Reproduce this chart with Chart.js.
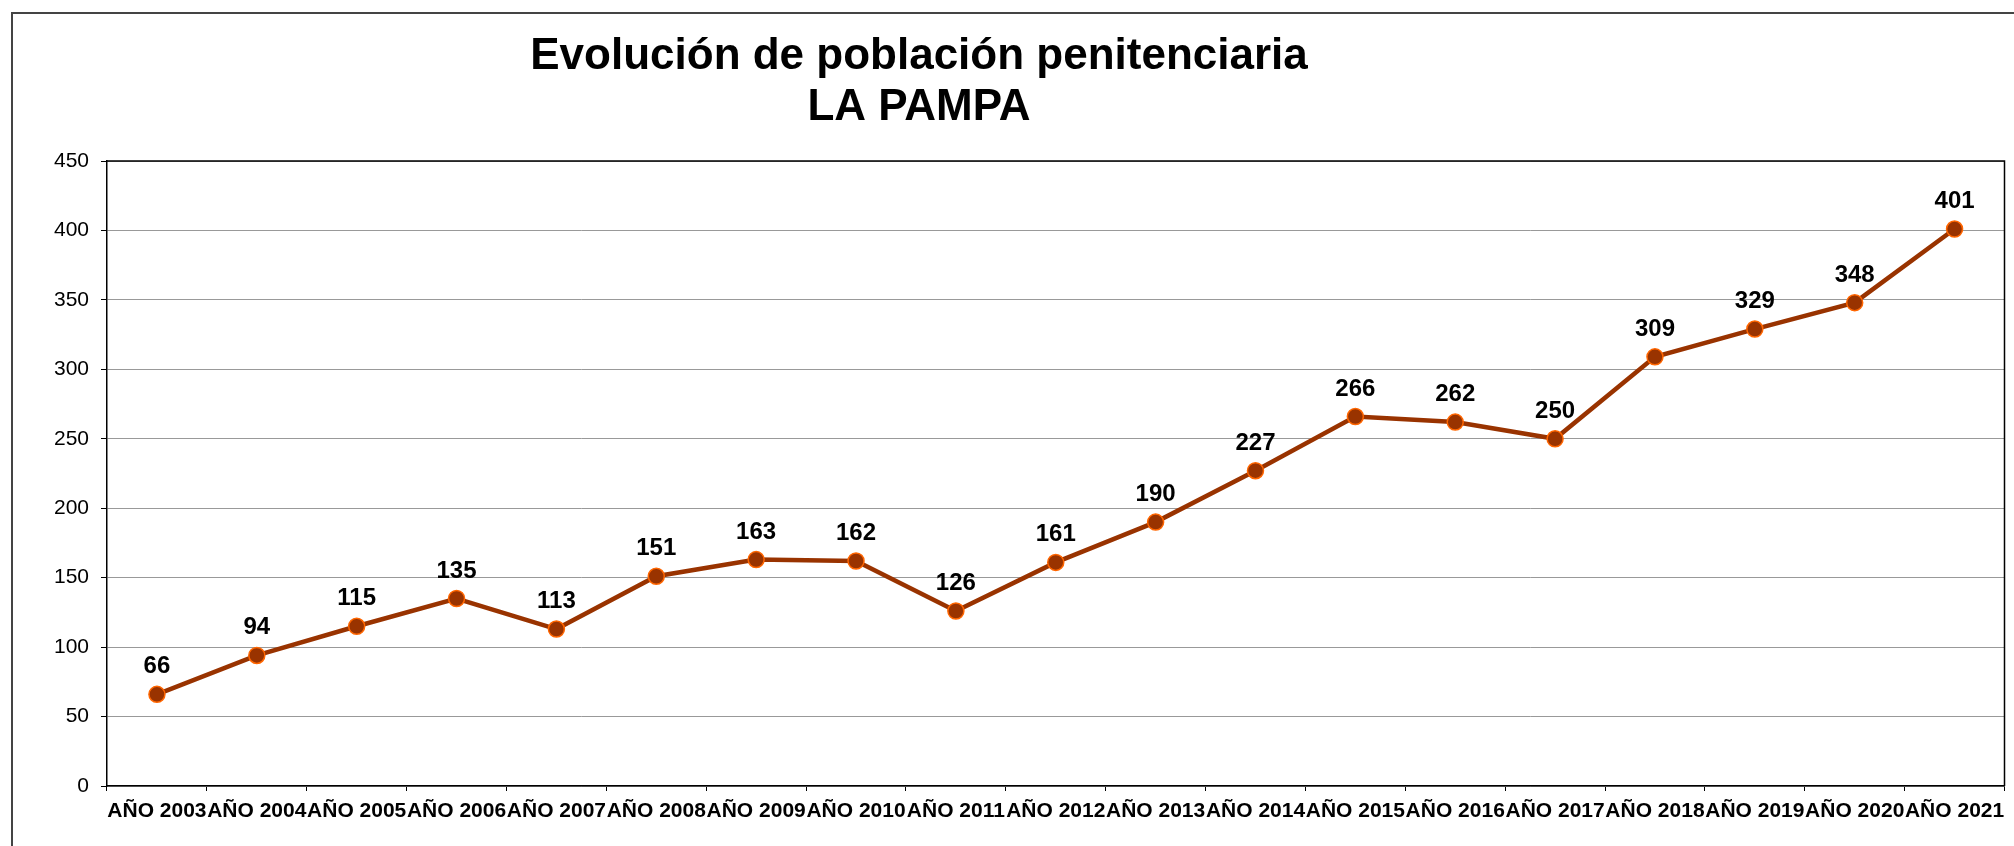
<!DOCTYPE html>
<html>
<head>
<meta charset="utf-8">
<title>Evolución de población penitenciaria - LA PAMPA</title>
<script src="https://cdn.jsdelivr.net/npm/chart.js@4.4.1/dist/chart.umd.min.js"></script>
<style>
  html, body { margin: 0; padding: 0; background: #FFFFFF; overflow: hidden; }
  #chart { display: block; }
</style>
</head>
<body>
<canvas id="chart" width="2014" height="846"></canvas>
<script>
  const years = ['AÑO 2003', 'AÑO 2004', 'AÑO 2005', 'AÑO 2006', 'AÑO 2007', 'AÑO 2008', 'AÑO 2009',
    'AÑO 2010', 'AÑO 2011', 'AÑO 2012', 'AÑO 2013', 'AÑO 2014', 'AÑO 2015', 'AÑO 2016', 'AÑO 2017',
    'AÑO 2018', 'AÑO 2019', 'AÑO 2020', 'AÑO 2021'];
  const population = [66, 94, 115, 135, 113, 151, 163, 162, 126, 161, 190, 227, 266, 262, 250, 309, 329, 348, 401];
  const titleLines = ['Evolución de población penitenciaria', 'LA PAMPA'];
  const yMin = 0;
  const yMax = 450;
  const yStep = 50;

  const FONT = "'Liberation Sans', Arial, sans-serif";

  // outer frame + plot border
  const framePlugin = {
    id: 'frame',
    beforeDraw(chart) {
      const c = chart.ctx;
      c.save();
      c.strokeStyle = '#444444';
      c.lineWidth = 2;
      c.beginPath();
      c.moveTo(12, chart.height);
      c.lineTo(12, 13);
      c.lineTo(chart.width, 13);
      c.stroke();
      c.restore();
    },
    afterDraw(chart) {
      const a = chart.chartArea;
      const c = chart.ctx;
      c.save();
      c.strokeStyle = '#000000';
      c.lineWidth = 1.5;
      c.beginPath();
      c.moveTo(a.left, a.top);
      c.lineTo(a.right, a.top);
      c.lineTo(a.right, a.bottom);
      c.stroke();
      c.restore();
    }
  };

  const titlePlugin = {
    id: 'bigTitle',
    afterDraw(chart) {
      const c = chart.ctx;
      c.save();
      c.fillStyle = '#000000';
      c.font = 'bold 44px ' + FONT;
      c.textAlign = 'center';
      c.textBaseline = 'alphabetic';
      c.fillText(titleLines[0], 919, 69);
      c.fillText(titleLines[1], 919, 120);
      c.restore();
    }
  };

  const valueLabels = {
    id: 'valueLabels',
    afterDatasetsDraw(chart) {
      const c = chart.ctx;
      const meta = chart.getDatasetMeta(0);
      c.save();
      c.fillStyle = '#000000';
      c.font = 'bold 24px ' + FONT;
      c.textAlign = 'center';
      c.textBaseline = 'alphabetic';
      meta.data.forEach(function (pt, i) {
        c.fillText(String(population[i]), pt.x, pt.y - 21);
      });
      c.restore();
    }
  };

  const ctx = document.getElementById('chart').getContext('2d');

  new Chart(ctx, {
    type: 'line',
    data: {
      labels: years,
      datasets: [{
        label: 'Población',
        data: population,
        borderColor: '#993300',
        borderWidth: 4.5,
        pointBackgroundColor: '#993300',
        pointBorderColor: '#FF6600',
        pointBorderWidth: 1.5,
        pointRadius: 8,
        fill: false,
        tension: 0
      }]
    },
    options: {
      responsive: false,
      animation: false,
      layout: { padding: { top: 161, right: 4, bottom: 0, left: 0 } },
      plugins: {
        legend: { display: false },
        title: { display: false },
        tooltip: { enabled: false }
      },
      scales: {
        x: {
          offset: true,
          border: { display: true, color: '#000000', width: 1.5 },
          grid: {
            offset: true,
            drawOnChartArea: false,
            drawTicks: true,
            tickLength: 5,
            tickColor: '#000000',
            tickWidth: 1
          },
          ticks: {
            autoSkip: false,
            maxRotation: 0,
            minRotation: 0,
            padding: 8,
            color: '#000000',
            font: { family: FONT, size: 21, weight: 'bold' }
          },
          afterFit(scale) { scale.height = 60; }
        },
        y: {
          min: yMin,
          max: yMax,
          border: { display: true, color: '#000000', width: 1.5 },
          grid: {
            color: '#999999',
            lineWidth: 1,
            borderDash: [2, 2],
            drawTicks: true,
            tickLength: 6,
            tickColor: '#000000',
            tickWidth: 1,
            tickBorderDash: []
          },
          ticks: {
            stepSize: yStep,
            padding: 12,
            color: '#000000',
            font: { family: FONT, size: 21 }
          },
          afterFit(scale) { scale.width = 107; }
        }
      }
    },
    plugins: [framePlugin, titlePlugin, valueLabels]
  });
</script>
</body>
</html>
